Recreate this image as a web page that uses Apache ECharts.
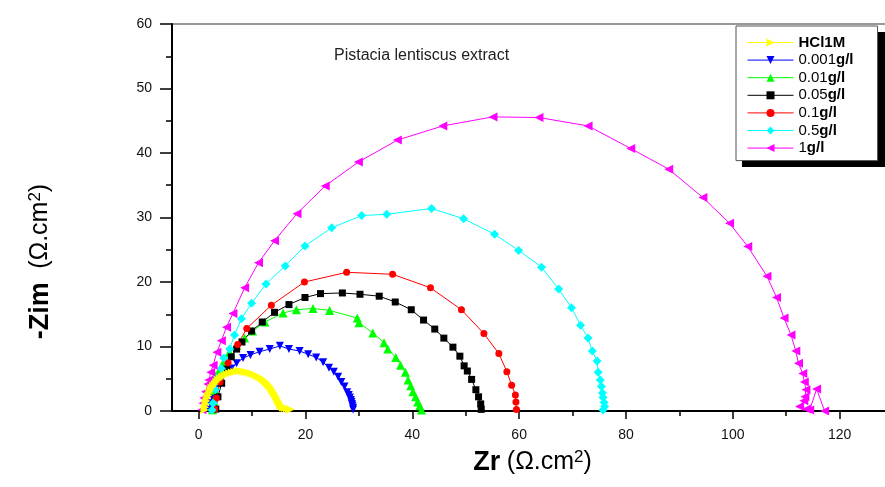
<!DOCTYPE html>
<html>
<head>
<meta charset="utf-8">
<script src="https://cdn.jsdelivr.net/npm/echarts@6/dist/echarts.min.js"></script>
<style>html,body{margin:0;padding:0;background:#fff}#c{width:885px;height:487px}</style>
</head>
<body>
<div id="c"></div>
<script>
// ---- data (Zr, -Zim in ohm.cm2) ----
const seriesNames = ['HCl1M', '0.001g/l', '0.01g/l', '0.05g/l', '0.1g/l', '0.5g/l', '1g/l'];
const xTickLabels = [0, 20, 40, 60, 80, 100, 120];
const xMinorTicks = [10, 30, 50, 70, 90, 110, 130];

const zrHCl = [1.1,1.2,1.3,1.45,1.6,1.8,2.0,2.2,2.4,2.7,3.0,3.3,3.65,4.0,4.4,4.8,5.25,5.7,6.2,6.65,7.1,7.6,8.05,8.5,9.0,9.45,9.9,10.35,10.8,11.15,11.5,11.9,12.3,12.6,12.9,13.2,13.5,13.75,14.0,14.25,14.5,14.7,14.9,15.1,15.3,15.55,15.8,16.1,16.5,16.9,17.2];
const zimHCl = [0.15,0.6,1.1,1.55,2.0,2.4,2.8,3.2,3.6,3.9,4.2,4.5,4.8,5.05,5.3,5.5,5.7,5.85,5.95,6.05,6.15,6.2,6.15,6.1,6.0,5.9,5.8,5.65,5.5,5.35,5.2,4.95,4.7,4.45,4.2,3.9,3.6,3.25,2.9,2.55,2.2,1.85,1.5,1.2,0.9,0.7,0.55,0.45,0.4,0.3,0.25];

const zr0001 = [2.0,2.2,2.5,2.9,3.4,4.1,5.1,6.1,7.1,8.3,9.7,11.4,13.3,15.2,16.9,18.9,20.5,22.0,23.3,24.4,25.3,26.1,26.7,27.3,27.8,28.1,28.3,28.5,28.6,28.7,28.8,28.9,28.9];
const zim0001 = [0.2,1.2,2.2,3.3,4.3,5.3,6.0,6.6,7.4,8.2,8.7,9.2,9.6,10.1,9.6,9.3,8.8,8.3,7.55,6.7,6.1,5.3,4.5,3.8,2.9,2.5,2.1,1.7,1.4,1.1,0.8,0.5,0.25];

const zr001 = [2.6,2.8,3.0,3.2,3.9,4.55,5.8,7.1,8.6,10.1,12.4,15.8,18.3,21.4,24.5,29.7,30.0,32.6,34.7,35.4,36.9,37.8,38.7,39.2,39.7,40.1,40.6,41.0,41.4,41.7];
const zim001 = [0.2,1.6,3.2,5.4,6.4,7.4,9.1,10.2,11.3,12.4,13.8,15.2,15.7,15.9,15.6,14.4,13.7,12.1,10.6,9.6,8.3,7.1,6.0,4.8,3.9,3.0,2.2,1.4,0.8,0.15];

const zr005 = [3.2,3.6,4.3,5.2,6.1,7.1,8.1,9.9,11.9,14.2,16.9,19.9,22.8,26.9,30.2,33.8,36.8,39.8,42.1,44.2,45.9,47.6,48.9,49.7,50.3,51.1,51.9,52.4,52.8,52.9];
const zim005 = [0.3,2.2,4.3,6.5,8.4,9.6,10.7,12.4,13.8,15.3,16.5,17.6,18.2,18.3,18.1,17.8,16.9,15.7,14.1,12.7,11.3,9.9,8.5,7.0,6.2,4.9,3.3,2.2,1.1,0.25];

const zr01 = [3.0,3.3,4.0,5.5,7.3,9.0,13.6,19.8,27.7,36.3,43.4,49.2,53.4,56.2,57.7,58.6,59.3,59.4,59.5];
const zim01 = [0.3,2.0,4.5,7.5,10.3,12.8,16.4,20.0,21.5,21.2,19.1,15.7,12.0,8.9,6.1,4.0,2.5,1.4,0.25];

const zr05 = [2.5,2.7,3.1,3.6,4.25,4.7,5.8,6.7,8.0,9.9,12.6,16.2,19.9,24.9,30.5,35.2,43.6,49.6,55.4,59.9,64.2,67.4,69.8,71.5,72.9,73.7,74.6,74.8,75.2,75.4,75.6,75.7,75.9,76.0,75.7];
const zim05 = [0.15,1.2,3.3,5.1,6.6,8.2,9.6,11.8,14.3,16.7,19.7,22.5,25.6,28.4,30.3,30.5,31.4,29.8,27.4,24.9,22.3,18.9,16.0,13.3,11.3,9.3,7.75,6.0,4.8,3.8,2.8,2.1,1.3,0.7,0.15];

const zr1 = [0.6,0.8,0.94,1.3,1.7,1.9,2.25,2.7,3.4,4.25,5.2,6.4,8.6,11.2,14.2,18.4,23.7,29.9,37.2,45.7,55.1,63.7,72.9,80.9,88.0,94.4,99.4,102.8,106.4,108.2,109.6,110.9,111.8,112.3,113.1,113.4,113.7,113.5,113.3,112.5,113.8,114.4,115.7,117.2];
const zim1 = [0.2,1.2,2.0,3.0,4.2,4.8,6.0,7.1,9.1,10.9,13.0,15.1,19.1,23.0,26.4,30.6,34.9,38.6,42.0,44.2,45.6,45.5,44.2,40.7,37.5,33.1,29.1,25.5,20.9,17.6,14.4,11.8,9.3,7.4,5.8,4.5,3.3,2.2,1.6,0.7,0.3,0.15,3.4,0];

// ---- chart ----
const FONT = '"Liberation Sans", Arial, sans-serif';
function pairs(xs, ys) { return xs.map((x, i) => [x, ys[i]]); }

function mk(name, xs, ys, color, symbol, rot, size) {
  return {
    name: name, type: 'line', data: pairs(xs, ys),
    symbol: symbol, symbolRotate: rot, symbolSize: size,
    showAllSymbol: true,
    lineStyle: { color: color, width: 1 },
    itemStyle: { color: color },
    emphasis: { disabled: true },
    clip: false
  };
}

const chart = echarts.init(document.getElementById('c'));
chart.setOption({
  animation: false,
  backgroundColor: '#fff',
  title: {
    text: 'Pistacia lentiscus extract',
    left: 334, top: 48, padding: 0,
    textStyle: { fontFamily: FONT, fontSize: 16, fontWeight: 'normal', color: '#222' }
  },
  grid: { left: 172, width: 721, top: 24, bottom: 76, outerBoundsMode: 'none', containLabel: false,
          show: true, borderColor: '#333', borderWidth: 1, backgroundColor: 'transparent' },
  graphic: [{
    type: 'rect', z: 3, silent: true,
    shape: { x: 742, y: 32, width: 143, height: 135 },
    style: { fill: '#000' }
  }],
  legend: {
    data: seriesNames,
    orient: 'vertical', left: 736, top: 26, z: 5,
    padding: [9, 24, 5, 11],
    itemWidth: 46, itemHeight: 10, itemGap: 2.6,
    backgroundColor: '#fff', borderColor: '#555', borderWidth: 1,
    lineStyle: { width: 1 },
    formatter: function (name) {
      if (name === 'HCl1M') return '{b|' + name + '}';
      const i = name.indexOf('g');
      return '{n|' + name.slice(0, i) + '}{b|' + name.slice(i) + '}';
    },
    textStyle: {
      fontFamily: FONT, fontSize: 15, color: '#000',
      rich: {
        n: { fontFamily: FONT, fontSize: 15, color: '#000' },
        b: { fontFamily: FONT, fontSize: 15, fontWeight: 'bold', color: '#000' }
      }
    }
  },
  xAxis: [{
    type: 'value', min: -5, max: 130,
    name: '{b|Zr} {n|(Ω.cm}{s|2}{n|)}',
    nameLocation: 'middle', nameGap: 38,
    nameTextStyle: {
      fontFamily: FONT, fontSize: 24, color: '#000',
      rich: {
        b: { fontFamily: FONT, fontSize: 27, fontWeight: 'bold', color: '#000' },
        n: { fontFamily: FONT, fontSize: 25, color: '#000' },
        s: { fontFamily: FONT, fontSize: 17, color: '#000', verticalAlign: 'top' }
      }
    },
    axisLine: { show: true, onZero: false, lineStyle: { color: '#000', width: 2 } },
    axisTick: { show: true, customValues: xTickLabels, length: 8, lineStyle: { color: '#000', width: 1.5 } },
    axisLabel: { show: true, customValues: xTickLabels, margin: 17, fontFamily: FONT, fontSize: 14, color: '#111' },
    splitLine: { show: false }
  }, {
    type: 'value', min: -5, max: 130, position: 'bottom',
    axisLine: { show: false, onZero: false },
    axisTick: { show: true, customValues: xMinorTicks, length: 5, lineStyle: { color: '#000', width: 1.5 } },
    axisLabel: { show: false },
    splitLine: { show: false }
  }],
  yAxis: {
    type: 'value', min: 0, max: 60, interval: 10,
    name: '{b|-Zim}  {n|(Ω.cm}{s|2}{n|)}',
    nameLocation: 'middle', nameGap: 118,
    nameTextStyle: {
      fontFamily: FONT, fontSize: 24, color: '#000', padding: [0, 88, 0, 0],
      rich: {
        b: { fontFamily: FONT, fontSize: 27, fontWeight: 'bold', color: '#000' },
        n: { fontFamily: FONT, fontSize: 25, color: '#000' },
        s: { fontFamily: FONT, fontSize: 17, color: '#000', verticalAlign: 'top' }
      }
    },
    axisLine: { show: true, onZero: false, lineStyle: { color: '#000', width: 2 } },
    axisTick: { show: true, length: 12, lineStyle: { color: '#000', width: 1.5 } },
    minorTick: { show: true, splitNumber: 2, length: 6, lineStyle: { color: '#000', width: 1.5 } },
    axisLabel: { margin: 20, fontFamily: FONT, fontSize: 14, color: '#111' },
    splitLine: { show: false }
  },
  series: [
    mk('0.001g/l', zr0001, zim0001, '#0000ff', 'triangle', 180, 8),
    mk('0.01g/l', zr001, zim001, '#00ff00', 'triangle', 0, 9),
    mk('0.05g/l', zr005, zim005, '#000000', 'rect', 0, 7),
    mk('0.1g/l', zr01, zim01, '#ff0000', 'circle', 0, 7),
    mk('0.5g/l', zr05, zim05, '#00ffff', 'diamond', 0, 9),
    mk('1g/l', zr1, zim1, '#ff00ff', 'triangle', 90, 9),
    mk('HCl1M', zrHCl, zimHCl, '#ffff00', 'triangle', -90, 8)
  ]
});
</script>
</body>
</html>
